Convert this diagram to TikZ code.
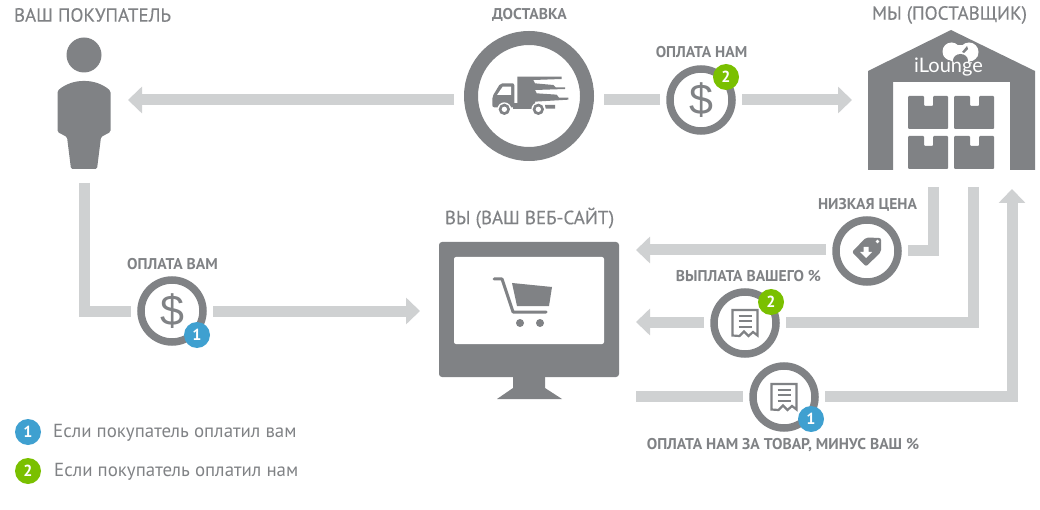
\documentclass[tikz,border=0pt]{standalone}
\usepackage{fontspec}
\setmainfont{PT Sans}
\newfontfamily\labelfont[FakeBold=0.3]{PT Sans}
\newfontfamily\dollarfont{Liberation Sans}
\newfontfamily\logofont{Lato}
\usetikzlibrary{arrows.meta,shapes}
\definecolor{icongray}{HTML}{808285}
\definecolor{flowgray}{HTML}{CFD1D2}
\definecolor{badgeblue}{HTML}{3FA0D0}
\definecolor{badgegreen}{HTML}{7AC000}
\tikzstyle{ring}=[circle,draw=icongray,line width=7.5pt,fill=white,minimum size=62pt,outer sep=10pt,inner sep=0pt,text=icongray,font=\dollarfont\fontsize{43}{43}\selectfont]
\tikzstyle{big ring}=[ring,line width=14pt,minimum size=116pt,outer sep=17pt]
\tikzstyle{badge}=[circle,minimum size=26pt,inner sep=0pt,text=white,font=\bfseries\fontsize{16}{16}\selectfont]
\tikzstyle{flow}=[draw=flowgray,line width=11pt]
\tikzstyle{flow arrow}=[flow,-{Triangle[length=14pt,width=26pt]}]
\tikzstyle{big label}=[text=icongray,inner sep=0pt,font=\labelfont\fontsize{19}{19}\selectfont]
\tikzstyle{small label}=[text=icongray,inner sep=0pt,font=\bfseries\fontsize{15.6}{15.6}\selectfont]
\tikzstyle{legend label}=[text=icongray,inner sep=0pt,anchor=west,font=\fontsize{18.9}{18.9}\selectfont]
\tikzset{receipt/.pic={
    \draw[icongray,line width=2.2pt,line join=miter]
        (-12.5,12.5) -- (-12.5,-13) -- (12.5,-13) -- (12.5,12.5) -- (8,9) -- (3.5,13) -- (-1,8.5) -- (-5.5,13) -- cycle;
    \foreach \y in {-7,-1.7,4}
        \draw[icongray,line width=2pt] (-6.5,\y) -- (6.5,\y);
}}
\begin{document}
\begin{tikzpicture}[x=1pt,y=-1pt]
    \useasboundingbox (0,0) rectangle (1040,510);
    % First we draw the round icons
    \node[big ring] (delivery) at (529,96) {};
    \foreach \pos/\name/\txt in {{(701,100)/paynet/\$}, {(172,311)/payyou/\$}, {(867,251)/price/}, {(745,323)/payout/}, {(784,397)/payorder/}}
        \node[ring] (\name) at \pos {\txt};

    % Free ends of the connectors
    \coordinate (buyerin) at (128,100);
    \coordinate (buyerout) at (84,183);
    \coordinate (sitepay) at (420,311);
    \coordinate (storein) at (852,100);
    \coordinate (siteprice) at (636,250);
    \coordinate (sitepct) at (636,322);
    \coordinate (siteout) at (636,396);
    \coordinate (storeprice) at (933,187);
    \coordinate (storepct) at (973,187);
    \coordinate (storeorder) at (1012,189);

    % Connect them
    \draw[flow arrow] (delivery.west |- buyerin) -- (buyerin);
    \draw[flow] (paynet.west) -- (delivery.east |- paynet.west);
    \draw[flow arrow] (paynet) -- (storein);
    \draw[flow] (buyerout) |- (payyou);
    \draw[flow arrow] (payyou) -- (sitepay);
    \draw[flow] (storeprice) |- (price.east);
    \draw[flow arrow] (price.west |- siteprice) -- (siteprice);
    \draw[flow] (storepct) |- (payout.east |- sitepct);
    \draw[flow arrow] (payout.west |- sitepct) -- (sitepct);
    \draw[flow] (siteout) -- (payorder.west |- siteout);
    \draw[flow arrow] (payorder.east |- siteout) -| (storeorder);

    % Buyer
    \node[circle,fill=icongray,minimum size=35pt,inner sep=0pt] (buyerhead) at (84,55) {};
    \fill[icongray,rounded corners=1.5pt] (57.5,91) .. controls (65,84) and (75,81) .. (84,81) .. controls (93,81) and (103,84) .. (110.5,91)
        -- (110.5,132) -- (101,137) -- (97,169) -- (71,169) -- (67,137) -- (57.5,132) -- cycle;

    % Truck
    \begin{scope}[shift={(485,70)},scale=0.3333]
        \fill[icongray] (97,20) -- (230,20) -- (230,27) -- (145,30) -- (150,40) -- (205,45) -- (212,52) -- (240,52) -- (240,57) -- (150,60)
            -- (155,70) -- (215,74) -- (222,83) -- (250,83) -- (250,89) -- (150,95) -- (150,104) -- (97,104) -- cycle;
        \fill[icongray,rounded corners=2pt] (88,40) -- (46,40) -- (22,80) -- (22,112) -- (88,112) -- cycle;
        \fill[white] (53,50) -- (78,50) -- (78,75) -- (36,75) -- cycle;
        \fill[icongray] (85,100) -- (150,100) -- (150,116) -- (85,116) -- cycle;
        \fill[icongray] (180,105) -- (210,105) -- (210,116) -- (182,116) -- cycle;
        \foreach \wx in {58,160}{
            \fill[white] (\wx,118) circle (21);
            \fill[icongray] (\wx,118) circle (17);
            \fill[white] (\wx,118) circle (8);
        }
    \end{scope}

    % Warehouse
    \fill[icongray] (951,30) -- (1035,71) -- (1035,170) -- (1010,170) -- (1010,82) -- (893,82) -- (893,170) -- (868,170) -- (868,71) -- cycle;
    \foreach \bx in {908,954}
        \foreach \by in {96,136}
            \fill[icongray,rounded corners=1pt] (\bx,\by) -- (\bx+16,\by) -- (\bx+16,\by+10) -- (\bx+25,\by+10) -- (\bx+25,\by) -- (\bx+40,\by) -- (\bx+40,\by+33) -- (\bx,\by+33) -- cycle;
    \fill[white] (951.5,51.5) circle (9);
    \fill[white] (969,52) circle (9.5);
    \fill[white] (943.5,56) -- (978,56) -- (961,67) -- cycle;
    \fill[white] (952,45) -- (969,45) -- (969,56) -- (952,56) -- cycle;
    \fill[icongray] (960.5,60.5) ellipse (7.5 and 6.5);
    \fill[icongray] (962,52) -- (967,46) -- (968,49) -- (964,53) -- cycle;
    \node[text=white,inner sep=0pt,font=\logofont\fontsize{20}{20}\selectfont] (logo) at (948.5,67) {iLounge};

    % Monitor with the cart
    \node[rectangle,fill=icongray,rounded corners=3pt,minimum width=180pt,minimum height=135pt,inner sep=0pt] (monitor) at (529,309.5) {};
    \node[rectangle,fill=white,rounded corners=2pt,minimum width=150pt,minimum height=87pt,inner sep=0pt] (screen) at (529,300.5) {};
    \fill[icongray] (513,377) -- (545,377) -- (545,388) -- (562,399) -- (497,399) -- (513,388) -- cycle;
    \draw[icongray,line width=3pt,line cap=round,line join=round] (494,279) -- (502,279) -- (513,312) -- (546,312);
    \fill[icongray] (512,283) -- (552,287) -- (549,306) -- (517,306) -- cycle;
    \fill[icongray] (520,323) circle (4);
    \fill[icongray] (540,323) circle (4);

    % Price tag
    \fill[icongray,rounded corners=2pt] (852,252) -- (866,237.5) -- (881,238) -- (881,252) -- (866,266.5) -- cycle;
    \fill[white] (877.5,241.5) circle (1.8);
    \fill[white] (863.5,247) -- (868.5,247) -- (868.5,252) -- (872,252) -- (866,258) -- (860,252) -- (863.5,252) -- cycle;

    % Receipts
    \pic at (745,323) {receipt};
    \pic at (784,397) {receipt};

    % Numbered badges
    \foreach \pos/\name/\col/\num in {{(726,77)/badgea/badgegreen/2}, {(197,335)/badgeb/badgeblue/1}, {(771,302)/badgec/badgegreen/2}, {(811,419)/badged/badgeblue/1}, {(28,432)/badgee/badgeblue/1}, {(28,471)/badgef/badgegreen/2}}
        \node[badge,fill=\col] (\name) at \pos {\num};

    % Labels
    \node[big label] (buyerlabel) at (92.5,15) {ВАШ ПОКУПАТЕЛЬ};
    \node[big label] (storelabel) at (949.5,15) {МЫ (ПОСТАВЩИК)};
    \node[big label] (sitelabel) at (529.5,218) {ВЫ (ВАШ ВЕБ-САЙТ)};
    \foreach \pos/\name/\txt in {{(529.5,15)/deliverylabel/ДОСТАВКА}, {(701.5,52)/paynetlabel/ОПЛАТА НАМ}, {(172.5,264)/payyoulabel/ОПЛАТА ВАМ}, {(867.5,205)/pricelabel/НИЗКАЯ ЦЕНА}, {(748.5,276)/payoutlabel/ВЫПЛАТА ВАШЕГО \%}, {(783,445)/payorderlabel/ОПЛАТА НАМ ЗА ТОВАР, МИНУС ВАШ \%}}
        \node[small label] (\name) at \pos {\txt};
    \node[legend label] (legenda) at (53,433) {Если покупатель оплатил вам};
    \node[legend label] (legendb) at (54,472) {Если покупатель оплатил нам};
\end{tikzpicture}
\end{document}
